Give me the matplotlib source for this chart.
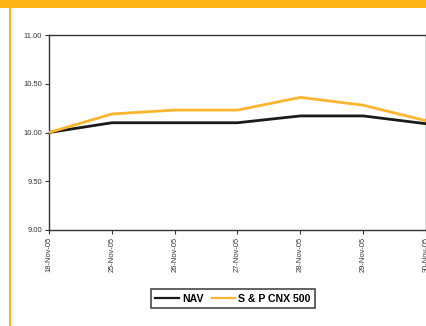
import matplotlib
matplotlib.use("Agg")
import matplotlib.pyplot as plt
from matplotlib.patches import Rectangle
from matplotlib.lines import Line2D

dates = ["18-Nov-05", "25-Nov-05", "26-Nov-05", "27-Nov-05", "28-Nov-05", "29-Nov-05", "30-Nov-05"]
nav = [10.00, 10.10, 10.10, 10.10, 10.17, 10.17, 10.09]
cnx500 = [10.00, 10.19, 10.23, 10.23, 10.36, 10.28, 10.12]
yticks = [9.00, 9.50, 10.00, 10.50, 11.00]

plt.rcParams['font.family'] = ['Liberation Sans', 'DejaVu Sans']

fig = plt.figure(figsize=(4.27, 3.26), dpi=100)
fig.patch.set_facecolor('white')

orange = '#FDB515'
# top orange band and left border line
fig.patches.append(Rectangle((0, 1 - 7.5/326), 1, 7.5/326, transform=fig.transFigure,
                             facecolor=orange, edgecolor='none', zorder=0))
fig.patches.append(Rectangle((9/427, 0), 1.6/427, 1, transform=fig.transFigure,
                             facecolor=orange, edgecolor='none', zorder=0))

ax = fig.add_axes([49/427, 1 - 230/326, 377/427, 195/326])
x = list(range(len(dates)))
ax.plot(x, nav, color='#1a1a1a', lw=2.0, label='NAV', zorder=3, solid_joinstyle='round')
ax.plot(x, cnx500, color='#FBB52E', lw=2.0, label='S & P CNX 500', zorder=3, solid_joinstyle='round')

ax.set_xlim(0, len(dates) - 1)
ax.set_ylim(9.0, 11.0)
ax.set_xticks(x)
ax.set_xticklabels(dates, rotation=90, fontsize=5.4, color='#333333')
ax.set_yticks(yticks)
ax.set_yticklabels([f"{v:.2f}" for v in yticks], fontsize=5.4, color='#333333')
ax.tick_params(axis='both', direction='out', length=3, width=0.8, color='#333333', pad=2)
for s in ax.spines.values():
    s.set_color('#333333')
    s.set_linewidth(1.0)

handles = [Line2D([0], [0], color='#1a1a1a', lw=1.6),
           Line2D([0], [0], color='#FBB52E', lw=1.6)]
leg = fig.legend(handles, ['NAV', 'S & P CNX 500'], loc='center',
                 bbox_to_anchor=(233/427, 1 - 298.5/326), ncol=2,
                 prop={'weight': 'bold', 'size': 7.6}, frameon=True, fancybox=False,
                 handlelength=2.2, handletextpad=0.3, columnspacing=0.8,
                 borderpad=0.45, borderaxespad=0)
leg.get_frame().set_edgecolor('#1a1a1a')
leg.get_frame().set_linewidth(1.2)

fig.savefig('out.png', dpi=100)
